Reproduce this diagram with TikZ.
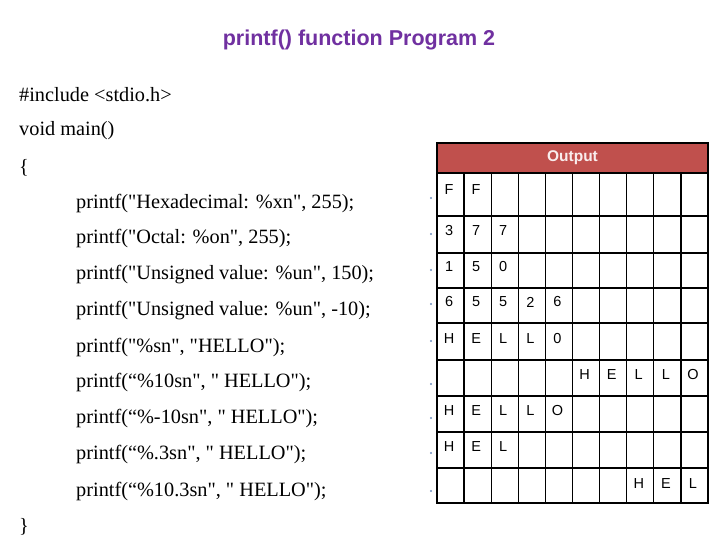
\documentclass[tikz,border=0pt]{standalone}
\usepackage{fontspec}
\setmainfont{Liberation Serif}[Ligatures=TeXOff]
\newfontfamily\sansf{Liberation Sans}
\definecolor{titlepurple}{HTML}{7030A0}
\definecolor{hdr}{HTML}{C0504D}
\definecolor{dotc}{HTML}{6F8FBF}
\newcommand{\q}{\char34\relax}
\begin{document}
\begin{tikzpicture}[x=1pt,y=-1pt,
  code/.style={anchor=west,inner sep=0pt,font=\fontsize{20.3}{20.3}\selectfont},
  cell/.style={anchor=center,inner sep=0pt,font=\sansf\fontsize{14.5}{14.5}\selectfont}]
\useasboundingbox (0,0) rectangle (720,540);
\node[font=\sansf\bfseries\fontsize{21.5}{21.5}\selectfont,text=titlepurple] (title) at (359,40) {printf() function Program 2};
\node[code] (l1) at (19,95) {\#include <stdio.h>};
\node[code] (l2) at (19,131) {void main()};
\node[code] (l3) at (19,168) {\{};
\node[code] (p1) at (76,204) {printf(\q Hexadecimal: \%xn\q, 255);};
\node[code] (p2) at (76,239) {printf(\q Octal: \%on\q, 255);};
\node[code] (p3) at (76,275) {printf(\q Unsigned value: \%un\q, 150);};
\node[code] (p4) at (76,311) {printf(\q Unsigned value: \%un\q, -10);};
\node[code] (p5) at (76,348) {printf(\q\%sn\q, \q HELLO\q);};
\node[code] (p6) at (76,383) {printf(“\%10sn\q, \q{} HELLO\q);};
\node[code] (p7) at (76,419) {printf(“\%-10sn\q, \q{} HELLO\q);};
\node[code] (p8) at (76,455) {printf(“\%.3sn\q, \q{} HELLO\q);};
\node[code] (p9) at (76,492) {printf(“\%10.3sn\q, \q{} HELLO\q);};
\node[code] (l4) at (19,527) {\}};
% header
\fill[hdr] (437,143) rectangle (708,173);
\node[font=\sansf\bfseries\fontsize{15.5}{15.5}\selectfont,text=white!90!hdr] (out) at (572.5,158) {Output};
% grid
\def\cw{27.1}
\foreach \y in {173,216,253,288,323,360,396,432,468,503} \draw[line width=1.3pt] (437,\y) -- (708,\y);
\foreach \k in {0,...,10} \draw[line width=1.3pt] (437+\k*\cw,173) -- (437+\k*\cw,503);
\draw[line width=1.3pt] (437,143) rectangle (708,503);
\foreach \r/\yy/\items in {1/190/{1/F,2/F},2/231/{1/3,2/7,3/7},3/267/{1/1,2/5,3/0},
  4/302/{1/6,2/5,3/5,4/2,5/6},5/339/{1/H,2/E,3/L,4/L,5/0},6/375/{6/H,7/E,8/L,9/L,10/O},
  7/411/{1/H,2/E,3/L,4/L,5/O},8/447/{1/H,2/E,3/L},9/484/{8/H,9/E,10/L}}{
  \foreach \c/\t in \items { \node[cell] (c\r-\c) at (437+\c*\cw-0.5*\cw-1.5,\yy) {\t}; }
}
\foreach \y in {198,234,270,304,341,384,418,453,491} \fill[dotc] (431,\y) circle (1.2);
\end{tikzpicture}
\end{document}
